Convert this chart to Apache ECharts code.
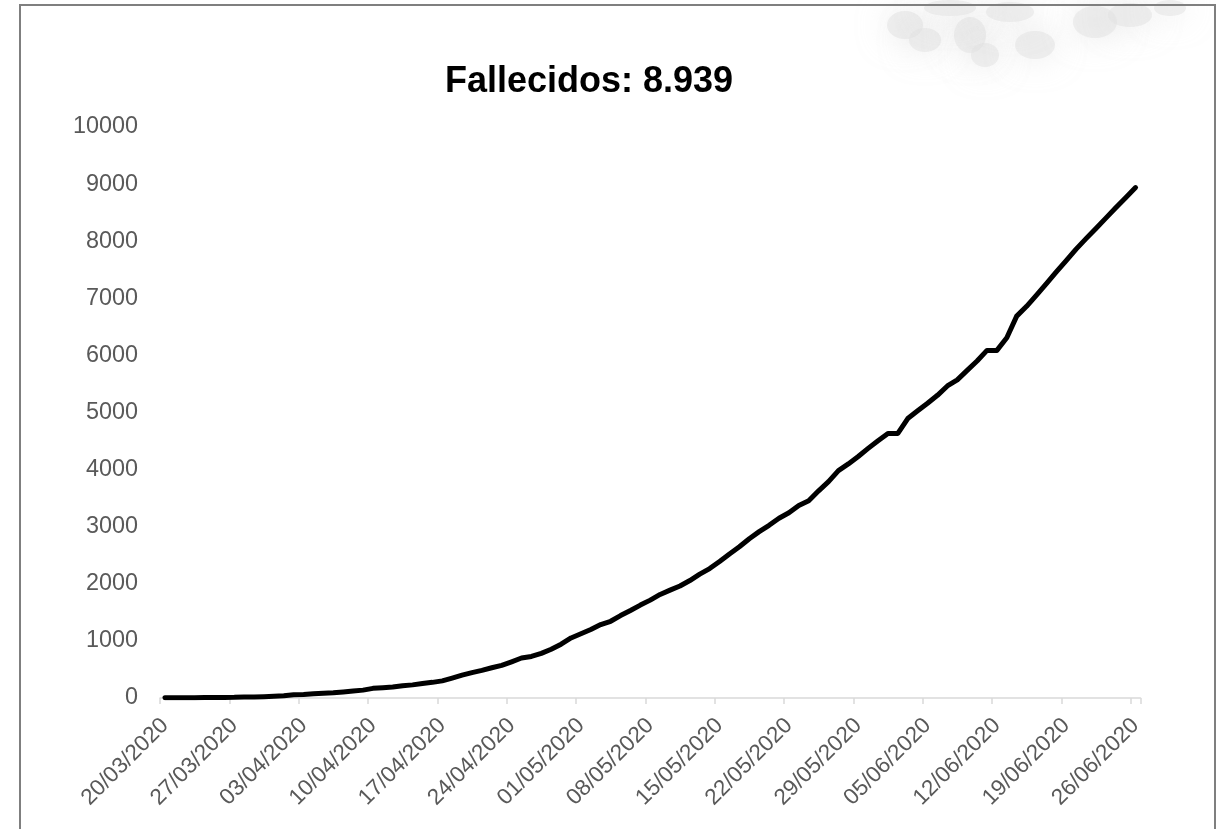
<!DOCTYPE html>
<html>
<head>
<meta charset="utf-8">
<script src="https://cdn.jsdelivr.net/npm/echarts@6/dist/echarts.min.js"></script>
<style>
  html, body { margin: 0; padding: 0; background: #ffffff; }
  #chart { width: 1216px; height: 829px; }
</style>
</head>
<body>
<div id="chart"></div>
<script>
// ---- data ----
const titleText = 'Fallecidos: 8.939';
const startDate = [2020, 3, 20]; // 20/03/2020
const dayCount = 99;             // 20/03/2020 .. 26/06/2020
const fallecidos = [
  3, 4, 5, 5, 7, 9, 10, 11, 16, 18,
  24, 30, 38, 55, 61, 73, 83, 92, 107, 121,
  138, 169, 181, 193, 216, 230, 254, 274, 300, 348,
  400, 445, 484, 530, 572, 634, 700, 728, 782, 854,
  943, 1051, 1124, 1200, 1286, 1344, 1444, 1533, 1627, 1714,
  1814, 1889, 1961, 2057, 2169, 2267, 2392, 2523, 2648, 2789,
  2914, 3024, 3148, 3244, 3373, 3456, 3629, 3788, 3983, 4099,
  4230, 4371, 4506, 4634, 4634, 4894, 5031, 5162, 5301, 5465,
  5571, 5738, 5903, 6088, 6088, 6308, 6688, 6860, 7056, 7257,
  7461, 7660, 7861, 8045, 8223, 8404, 8586, 8761, 8939
];
const yTicks = [0, 1000, 2000, 3000, 4000, 5000, 6000, 7000, 8000, 9000, 10000];

// category labels dd/mm/yyyy
const pad = n => (n < 10 ? '0' : '') + n;
const dates = [];
for (let i = 0; i < dayCount; i++) {
  const d = new Date(Date.UTC(startDate[0], startDate[1] - 1, startDate[2] + i));
  dates.push(pad(d.getUTCDate()) + '/' + pad(d.getUTCMonth() + 1) + '/' + d.getUTCFullYear());
}

const FONT = '"Liberation Sans", Arial, sans-serif';
const chart = echarts.init(document.getElementById('chart'), null, { renderer: 'canvas' });

// faint blurred watermark (decoration)
const blobs = [
  { cx: 905, cy: 25, rx: 18, ry: 14 },
  { cx: 925, cy: 40, rx: 16, ry: 12 },
  { cx: 970, cy: 35, rx: 16, ry: 18 },
  { cx: 985, cy: 55, rx: 14, ry: 12 },
  { cx: 1035, cy: 45, rx: 20, ry: 14 },
  { cx: 1010, cy: 12, rx: 24, ry: 10 },
  { cx: 950, cy: 8, rx: 26, ry: 8 },
  { cx: 1095, cy: 22, rx: 22, ry: 16 },
  { cx: 1130, cy: 15, rx: 22, ry: 12 },
  { cx: 1170, cy: 8, rx: 16, ry: 8 }
];

chart.setOption({
  animation: false,
  backgroundColor: '#ffffff',
  grid: { left: 160, right: 75.5, top: 127, bottom: 131, containLabel: false },
  xAxis: {
    type: 'category',
    data: dates,
    boundaryGap: true,
    axisLine: { show: true, lineStyle: { color: '#d9d9d9', width: 1.5 } },
    axisTick: { show: true, interval: 6, length: 6, lineStyle: { color: '#d9d9d9', width: 1.5 } },
    axisLabel: {
      interval: 6, rotate: 45, margin: 24,
      color: '#595959', fontSize: 22.5, fontFamily: FONT
    },
    splitLine: { show: false }
  },
  yAxis: {
    type: 'value',
    min: yTicks[0], max: yTicks[yTicks.length - 1], interval: 1000,
    axisLine: { show: false },
    axisTick: { show: false },
    splitLine: { show: false },
    axisLabel: {
      color: '#595959', fontSize: 23.4, fontFamily: FONT, margin: 22,
      formatter: v => String(v)
    }
  },
  series: [{
    type: 'line',
    data: fallecidos,
    symbol: 'none',
    smooth: false,
    lineStyle: { color: '#000000', width: 5, cap: 'round', join: 'round' },
    z: 5
  }],
  graphic: [
    ...blobs.map(b => ({
      type: 'ellipse',
      shape: { cx: b.cx, cy: b.cy, rx: b.rx, ry: b.ry },
      style: { fill: '#e2e2e2', shadowBlur: 30, shadowColor: '#dcdcdc', opacity: 0.5 },
      z: 0, silent: true
    })),
    {
      type: 'rect',
      shape: { x: 20, y: 5, width: 1195, height: 900 },
      style: { fill: 'none', stroke: '#7f7f7f', lineWidth: 2 },
      z: 10, silent: true
    },
    {
      type: 'text',
      x: 589, y: 82,
      style: {
        text: titleText,
        font: 'bold 36px ' + FONT,
        fill: '#000000',
        textAlign: 'center',
        textVerticalAlign: 'middle'
      },
      z: 10
    }
  ]
});
</script>
</body>
</html>
